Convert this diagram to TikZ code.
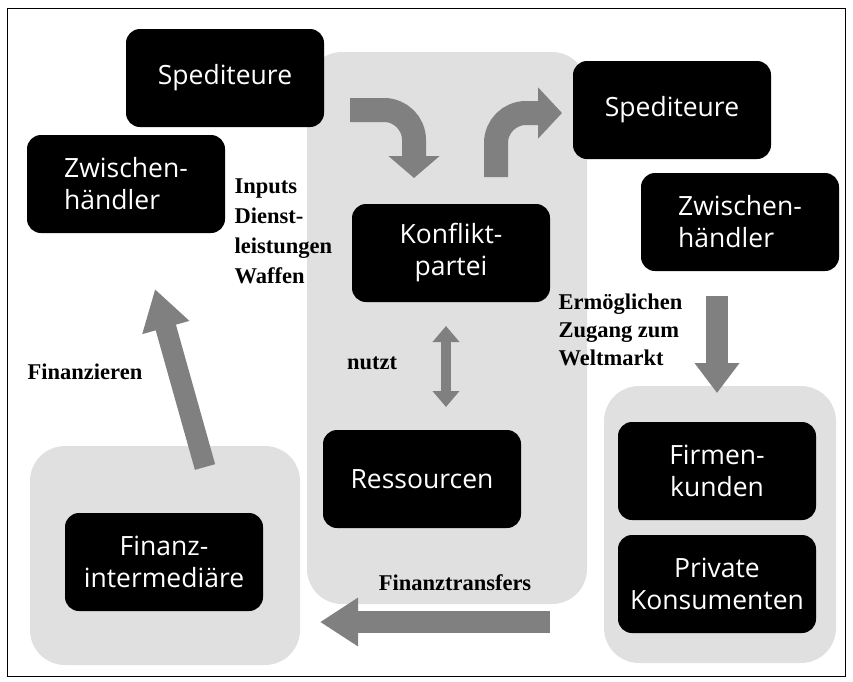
\documentclass[tikz,border=0pt]{standalone}
\usepackage{fontspec}
\setmainfont{Liberation Serif}
\newfontfamily\boxfont{Open Sans}
\usetikzlibrary{arrows.meta}
\begin{document}
\begin{tikzpicture}[x=1pt,y=-1pt,
		box/.style={fill=black,text=white,rounded corners=14pt,minimum width=198pt,minimum height=98pt,
			font=\boxfont\fontsize{26.5}{32}\selectfont,align=center},
		panel/.style={fill=black!12,rounded corners=35pt},
		lab/.style={font=\bfseries\fontsize{22.5}{30}\selectfont,align=left},
		flow/.style={gray,line width=22pt,-{Triangle[width=46pt,length=38pt]}}]
	\useasboundingbox (0,0) rectangle (853,681);
	\draw[line width=1pt] (7,8) rectangle (845,676);
	% grey fields
	\fill[panel] (307,52) rectangle (587,604);
	\fill[panel] (604,386) rectangle (836,663);
	\fill[panel] (30,446) rectangle (300,665);
	% actors
	\node[box] (sped1) at (225,78) {Spediteure};
	\node[box,align=left] (zw1) at (126,184) {Zwischen-\\händler};
	\node[box] (kp) at (451,253) {Konflikt-\\partei};
	\node[box] (res) at (422,479) {Ressourcen};
	\node[box] (sped2) at (672,110) {Spediteure};
	\node[box,align=left] (zw2) at (740,222) {Zwischen-\\händler};
	\node[box] (firm) at (717,471) {Firmen-\\kunden};
	\node[box] (priv) at (717,584) {Private\\Konsumenten};
	\node[box] (fin) at (164,562) {Finanz-\\intermediäre};
	% labels
	\node[lab,anchor=west] (inp) at (231,231) {Inputs\\Dienst-\\leistungen\\Waffen};
	\node[lab,anchor=west,font=\bfseries\fontsize{22.5}{28}\selectfont] (erm) at (555,330) {Ermöglichen\\Zugang zum\\Weltmarkt};
	\node[lab] (nutzt) at (372,363) {nutzt};
	\node[lab] (fz) at (85,372) {Finanzieren};
	\node[lab] (ft) at (455,583) {Finanztransfers};
	% arrows
	\coordinate (a1) at (350,110); \coordinate (a2) at (414,178);
	\coordinate (b1) at (496,177); \coordinate (b2) at (562,113);
	\coordinate (c1) at (717,296); \coordinate (c2) at (717,393);
	\coordinate (d1) at (446,326); \coordinate (d2) at (446,407);
	\coordinate (e1) at (550,622); \coordinate (e2) at (320,622);
	\coordinate (f1) at (205,467); \coordinate (f2) at (155,289);
	\draw[flow,line width=24pt,-{Triangle[width=50pt,length=22pt]},rounded corners=30pt] (a1) -| (a2);
	\draw[flow,line width=24pt,-{Triangle[width=50pt,length=24pt]},rounded corners=30pt] (b1) |- (b2);
	\draw[flow,-{Triangle[width=43pt,length=30pt]}] (c1) -- (c2);
	\draw[flow,line width=10pt,{Triangle[width=26pt,length=16pt]}-{Triangle[width=26pt,length=16pt]}] (d1) -- (d2);
	\draw[flow] (e1) -- (e2);
	\draw[flow,line width=21pt,-{Triangle[width=46pt,length=40pt]}] (f1) -- (f2);
\end{tikzpicture}
\end{document}
